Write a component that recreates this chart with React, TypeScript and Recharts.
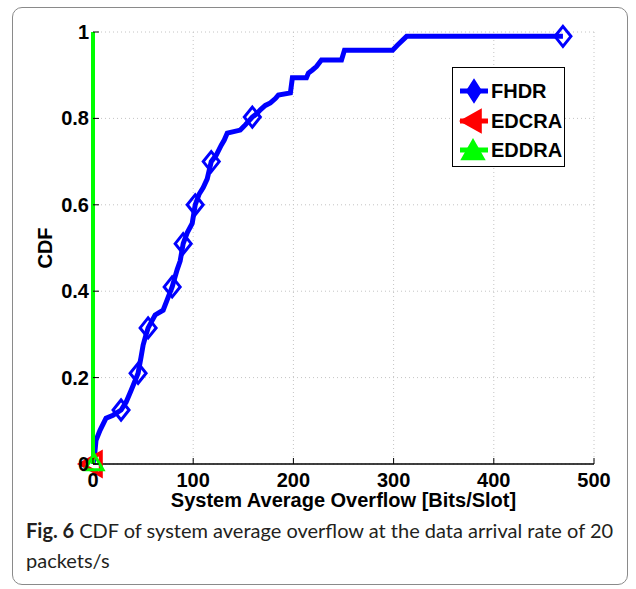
import { ComposedChart, Line, Scatter, XAxis, YAxis, CartesianGrid, Legend, Label } from 'recharts';

const fhdrX = [
  0, 2, 3, 7, 13, 20, 28, 33, 38, 45, 48, 50, 53, 55, 62, 70, 74, 79, 84, 87,
  90, 94, 99, 102, 106, 110, 114, 118, 123, 128, 131, 134, 147, 152, 159, 163, 167, 172, 177, 182,
  185, 197, 199, 213, 215, 219, 223, 228, 248, 251, 299, 304, 313, 469,
];
const fhdrY = [
  0, 0.03, 0.055, 0.078, 0.106, 0.113, 0.125, 0.143, 0.17, 0.21, 0.248, 0.275, 0.3, 0.315, 0.345, 0.356, 0.38, 0.41, 0.45, 0.47,
  0.51, 0.535, 0.557, 0.6, 0.625, 0.64, 0.66, 0.7, 0.715, 0.738, 0.75, 0.766, 0.773, 0.785, 0.803, 0.81, 0.82, 0.83, 0.836, 0.846,
  0.854, 0.859, 0.894, 0.894, 0.905, 0.912, 0.92, 0.935, 0.935, 0.958, 0.958, 0.97, 0.99, 0.99,
];
const fhdrMarkedX = [28, 45, 55, 79, 90, 102, 118, 159, 469];

// EDCRA and EDDRA have zero overflow: CDF jumps straight to 1
const edcraX = [0, 0];
const edcraY = [0, 1];
const eddraX = [0, 0];
const eddraY = [0, 1];

const xTicks = [0, 100, 200, 300, 400, 500];
const yTicks = [0, 0.2, 0.4, 0.6, 0.8, 1];

const fhdrData = fhdrX.map((x, i) => ({ x, cdf: fhdrY[i], mark: fhdrMarkedX.includes(x) }));
const edcraData = edcraX.map((x, i) => ({ x, cdf: edcraY[i] }));
const eddraData = eddraX.map((x, i) => ({ x, cdf: eddraY[i] }));
// only the first sample of each carries a marker
const edcraMarks = edcraData.slice(0, 1);
const eddraMarks = eddraData.slice(0, 1);

const BLUE = '#0000ff';
const RED = '#ff0000';
const GREEN = '#00ff00';
const AXIS_FONT = '"Liberation Sans", Arial, Helvetica, sans-serif';
const M = 10; // tick margin used to find the axis from tick props

function XTick(props: any) {
  const { x, y, payload } = props;
  const axisY = y - M;
  return (
    <g>
      <line x1={x} y1={axisY} x2={x} y2={axisY - 6} stroke="#000" strokeWidth={1} />
      <text x={x} y={axisY + 23} textAnchor="middle" fontFamily={AXIS_FONT} fontWeight="bold" fontSize={20} fill="#000">
        {payload.value}
      </text>
    </g>
  );
}

function YTick(props: any) {
  const { x, y, payload } = props;
  const axisX = x + M;
  return (
    <g>
      <line x1={axisX} y1={y} x2={axisX + 6} y2={y} stroke="#000" strokeWidth={1} />
      <text x={axisX - 4} y={y + 7} textAnchor="end" fontFamily={AXIS_FONT} fontWeight="bold" fontSize={20} fill="#000">
        {String(payload.value)}
      </text>
    </g>
  );
}

const diamond = (cx: number, cy: number, w: number, h: number) =>
  `M${cx},${cy - h} L${cx + w},${cy} L${cx},${cy + h} L${cx - w},${cy} Z`;
const leftTri = (cx: number, cy: number, s: number) =>
  `M${cx - s},${cy} L${cx + s * 0.8},${cy - s} L${cx + s * 0.8},${cy + s} Z`;
const upTri = (cx: number, cy: number, s: number) =>
  `M${cx},${cy - s} L${cx + s},${cy + s * 0.75} L${cx - s},${cy + s * 0.75} Z`;

function DiamondDot(props: any) {
  const { cx, cy, payload, index } = props;
  if (!payload.mark) return <g key={`fd-${index}`} />;
  return <path key={`fd-${index}`} d={diamond(cx, cy, 8, 10)} fill="none" stroke={BLUE} strokeWidth={3} />;
}

const RedMark = (props: any) => (
  <path d={leftTri(props.cx - 1, props.cy, 11)} fill="none" stroke={RED} strokeWidth={4} strokeLinejoin="miter" />
);
const GreenMark = (props: any) => (
  <path d={upTri(props.cx + 1, props.cy - 1, 9)} fill="none" stroke={GREEN} strokeWidth={3} />
);

const legendItems = [
  { name: 'FHDR', color: BLUE, shape: 'diamond' },
  { name: 'EDCRA', color: RED, shape: 'left' },
  { name: 'EDDRA', color: GREEN, shape: 'up' },
];

function LegendBox() {
  return (
    <div
      style={{
        width: 113,
        height: 100,
        boxSizing: 'border-box',
        border: '1px solid #000',
        background: '#fff',
        position: 'relative',
      }}
    >
      {legendItems.map((it, i) => (
        <div key={it.name} style={{ position: 'absolute', left: 5, top: 9 + i * 29.5, height: 28, display: 'flex', alignItems: 'center' }}>
          <svg width={32} height={28}>
            <line x1={2} y1={14} x2={30} y2={14} stroke={it.color} strokeWidth={5} />
            {it.shape === 'diamond' && <path d={diamond(16, 14, 7, 11)} fill={it.color} stroke={it.color} strokeWidth={2} />}
            {it.shape === 'left' && <path d={leftTri(14, 14, 11)} fill={it.color} stroke={it.color} strokeWidth={2} />}
            {it.shape === 'up' && <path d={upTri(15, 15, 11)} fill={it.color} stroke={it.color} strokeWidth={2} />}
          </svg>
          <span style={{ fontFamily: AXIS_FONT, fontWeight: 'bold', fontSize: 20, color: '#000', marginLeft: 1, lineHeight: '28px' }}>
            {it.name}
          </span>
        </div>
      ))}
    </div>
  );
}

export default function App() {
  return (
    <div style={{ position: 'absolute', left: 0, top: 0, width: 636, height: 589, background: '#fff' }}>
      <div
        style={{
          position: 'absolute',
          left: 12,
          top: 7,
          width: 616,
          height: 578,
          boxSizing: 'border-box',
          border: '1px solid #8a8a8a',
          borderRadius: 10,
        }}
      />
      <div style={{ position: 'absolute', left: 0, top: 0 }}>
        <ComposedChart width={636} height={520} margin={{ top: 32, right: 42, left: 33, bottom: 26 }}>
          <CartesianGrid stroke="#c4c4c4" strokeDasharray="1 3" />
          <XAxis
            dataKey="x"
            type="number"
            domain={[0, 500]}
            ticks={xTicks}
            height={30}
            tickSize={0}
            tickMargin={M}
            tick={<XTick />}
            axisLine={{ stroke: '#000', strokeWidth: 1.5 }}
          >
            <Label
              content={({ viewBox }: any) => (
                <text
                  x={viewBox.x + viewBox.width / 2}
                  y={viewBox.y + 43}
                  textAnchor="middle"
                  fontFamily={AXIS_FONT}
                  fontWeight="bold"
                  fontSize={20}
                  fill="#000"
                >
                  System Average Overflow [Bits/Slot]
                </text>
              )}
            />
          </XAxis>
          <YAxis
            dataKey="cdf"
            type="number"
            domain={[0, 1]}
            ticks={yTicks}
            width={60}
            tickSize={0}
            tickMargin={M}
            tick={<YTick />}
            axisLine={false}
          >
            <Label
              content={({ viewBox }: any) => {
                const lx = viewBox.x + 19;
                const ly = viewBox.y + viewBox.height / 2;
                return (
                  <text
                    x={lx}
                    y={ly}
                    transform={`rotate(-90, ${lx}, ${ly})`}
                    textAnchor="middle"
                    fontFamily={AXIS_FONT}
                    fontWeight="bold"
                    fontSize={20}
                    fill="#000"
                  >
                    CDF
                  </text>
                );
              }}
            />
          </YAxis>
          <Legend
            layout="vertical"
            align="center"
            verticalAlign="middle"
            wrapperStyle={{ left: 452, top: 67, width: 113, height: 100 }}
            content={() => <LegendBox />}
          />
          <Line
            data={fhdrData}
            dataKey="cdf"
            name="FHDR"
            type="linear"
            stroke={BLUE}
            strokeWidth={5}
            strokeLinejoin="miter"
            dot={DiamondDot}
            activeDot={false}
            isAnimationActive={false}
          />
          <Line
            data={edcraData}
            dataKey="cdf"
            name="EDCRA"
            type="linear"
            stroke={RED}
            strokeWidth={4}
            dot={false}
            activeDot={false}
            isAnimationActive={false}
          />
          <Line
            data={eddraData}
            dataKey="cdf"
            name="EDDRA"
            type="linear"
            stroke={GREEN}
            strokeWidth={4}
            dot={false}
            activeDot={false}
            isAnimationActive={false}
          />
          <Scatter data={edcraMarks} dataKey="cdf" shape={RedMark} isAnimationActive={false} legendType="none" />
          <Scatter data={eddraMarks} dataKey="cdf" shape={GreenMark} isAnimationActive={false} legendType="none" />
        </ComposedChart>
      </div>
      <div
        style={{
          position: 'absolute',
          left: 26,
          top: 515,
          width: 600,
          fontFamily: 'Lato, "Open Sans", sans-serif',
          fontSize: 20,
          lineHeight: '30px',
          color: '#231f20',
          whiteSpace: 'nowrap',
        }}
      >
        <div>
          <b style={{ marginRight: 5 }}>Fig. 6</b>
          <span>CDF of system average overflow at the data arrival rate of 20</span>
        </div>
        <div>packets/s</div>
      </div>
    </div>
  );
}
